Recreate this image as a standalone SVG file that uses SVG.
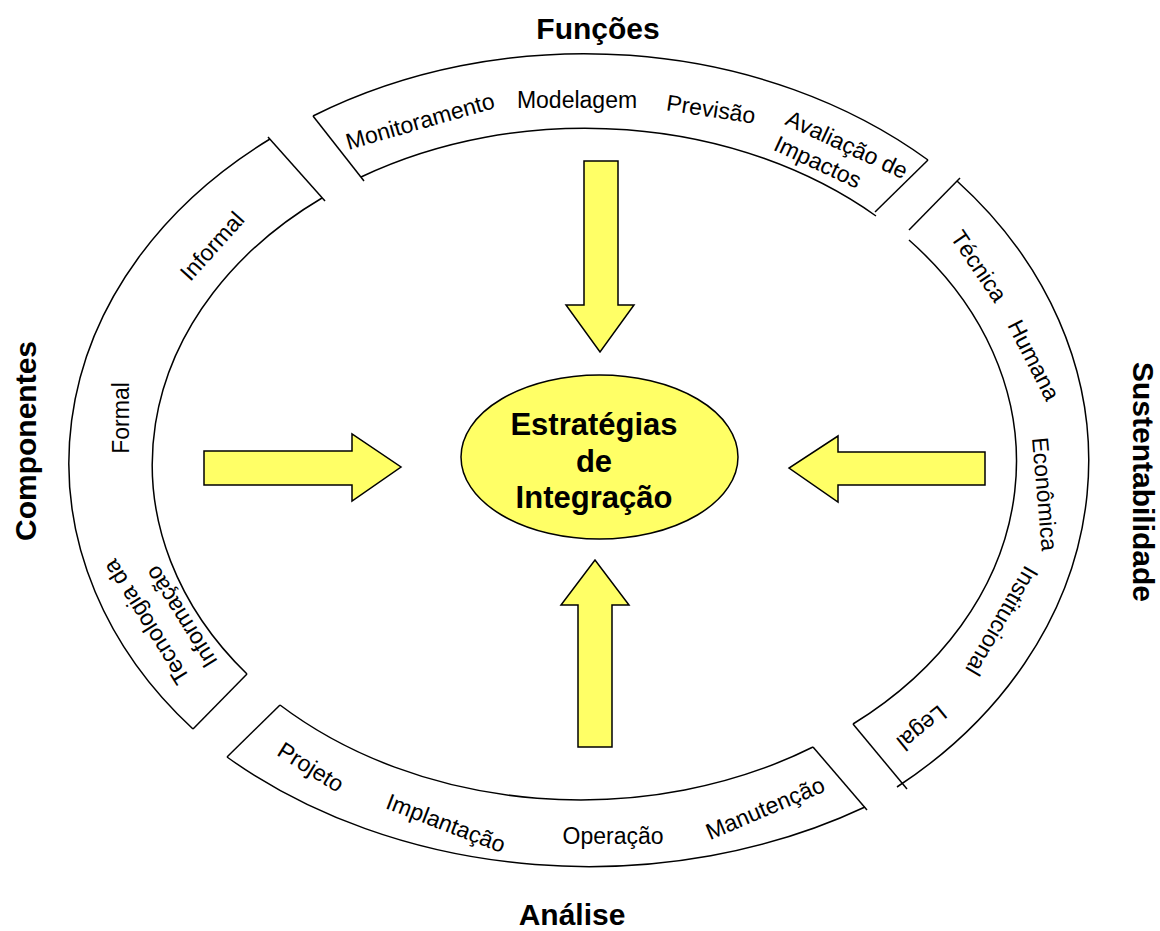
<svg xmlns="http://www.w3.org/2000/svg" width="1160" height="931" viewBox="0 0 1160 931">
<style>
.seg{fill:#ffffff;stroke:#000;stroke-width:1.5;fill-rule:evenodd}
.edge{stroke:#000;stroke-width:1.5;fill:none}
.arrow{fill:#ffff66;stroke:#000;stroke-width:1.5;stroke-linejoin:miter}
.lbl{font-family:"Liberation Sans",Arial,sans-serif;font-size:23px;fill:#000}
.ttl{font-family:"Liberation Sans",Arial,sans-serif;font-size:30px;font-weight:bold;fill:#000}
.ctr{font-family:"Liberation Sans",Arial,sans-serif;font-size:31px;font-weight:bold;fill:#000}
</style>
<rect width="1160" height="931" fill="#ffffff"/>

<g id="seg-funcoes">
<path class="edge" d="M313 116 A510 407 0 0 1 928 160"/>
<path class="edge" d="M876 216 A431 335 0 0 0 361 177"/>
<line class="edge" x1="313" y1="116" x2="364" y2="181"/>
<line class="edge" x1="928" y1="160" x2="875" y2="212"/>
<text class="lbl" text-anchor="middle" dy="0.35em" transform="translate(420,121) rotate(-16)">Monitoramento</text>
<text class="lbl" text-anchor="middle" dy="0.35em" transform="translate(577,100)">Modelagem</text>
<text class="lbl" text-anchor="middle" dy="0.35em" transform="translate(711,109) rotate(8.6)">Previsão</text>
<text class="lbl" transform="translate(784,124) rotate(25)"><tspan x="0" y="0">Avaliação de</tspan><tspan x="0" y="28">Impactos</tspan></text>
<text class="ttl" text-anchor="middle" x="598" y="39">Funções</text>
</g>

<g id="seg-sustentabilidade">
<path class="edge" d="M957 181 A512 418 0 0 1 897 787"/>
<path class="edge" d="M853 724 A431 335 0 0 0 909 240"/>
<line class="edge" x1="960" y1="178" x2="909" y2="230"/>
<line class="edge" x1="853" y1="724" x2="907" y2="789"/>
<text class="lbl" text-anchor="middle" dy="0.35em" transform="translate(979,266) rotate(56)">Técnica</text>
<text class="lbl" text-anchor="middle" dy="0.35em" transform="translate(1034,360) rotate(63)">Humana</text>
<text class="lbl" text-anchor="middle" dy="0.35em" transform="translate(1045,494) rotate(85)">Econômica</text>
<text class="lbl" text-anchor="middle" dy="0.35em" transform="translate(1002,621) rotate(120)">Institucional</text>
<text class="lbl" text-anchor="middle" dy="0.35em" transform="translate(922,728) rotate(141)">Legal</text>
<text class="ttl" text-anchor="middle" transform="translate(1133,482) rotate(90)">Sustentabilidade</text>
</g>

<g id="seg-analise">
<path class="edge" d="M227 757 A530 407 0 0 0 865 807"/>
<path class="edge" d="M813 747 A431 335 0 0 1 280 705"/>
<line class="edge" x1="280" y1="705" x2="227" y2="757"/>
<line class="edge" x1="813" y1="747" x2="867" y2="810"/>
<text class="lbl" text-anchor="middle" dy="0.35em" transform="translate(311,767) rotate(32)">Projeto</text>
<text class="lbl" text-anchor="middle" dy="0.35em" transform="translate(446,823) rotate(21)">Implantação</text>
<text class="lbl" text-anchor="middle" dy="0.35em" transform="translate(613,836)">Operação</text>
<text class="lbl" text-anchor="middle" dy="0.35em" transform="translate(765,808) rotate(-23)">Manutenção</text>
<text class="ttl" text-anchor="middle" x="572" y="925">Análise</text>
</g>

<g id="seg-componentes">
<path class="edge" d="M270 139 A510 407 0 0 0 193 729"/>
<path class="edge" d="M247 674 A431 335 0 0 1 322 198"/>
<line class="edge" x1="268" y1="137" x2="325" y2="201"/>
<line class="edge" x1="247" y1="674" x2="193" y2="729"/>
<text class="lbl" text-anchor="middle" dy="0.35em" transform="translate(212,246) rotate(-48)">Informal</text>
<text class="lbl" text-anchor="middle" dy="0.35em" transform="translate(121,418) rotate(-90)">Formal</text>
<text class="lbl" text-anchor="middle" dy="0.35em" transform="translate(146,622) rotate(-122)">Tecnologia da</text>
<text class="lbl" text-anchor="middle" dy="0.35em" transform="translate(181,617) rotate(-122)">Informação</text>
<text class="ttl" text-anchor="middle" transform="translate(36,441) rotate(-90)">Componentes</text>
</g>

<g id="arrows">
<polygon class="arrow" points="584,161 618,161 618,305 634,305 600,352 566,305 584,305"/>
<polygon class="arrow" points="578,747 612,747 612,605 629,605 595,560 561,605 578,605"/>
<polygon class="arrow" points="204,451 352,451 352,434 401,467 352,501 352,485 204,485"/>
<polygon class="arrow" points="985,452 838,452 838,436 789,468 838,502 838,485 985,485"/>
</g>

<g id="center">
<ellipse cx="599.5" cy="457" rx="138.5" ry="82" fill="#ffff66" stroke="#000" stroke-width="1.5"/>
<text class="ctr" text-anchor="middle" x="594" y="435">Estratégias</text>
<text class="ctr" text-anchor="middle" x="594" y="472">de</text>
<text class="ctr" text-anchor="middle" x="594" y="508">Integração</text>
</g>
</svg>
